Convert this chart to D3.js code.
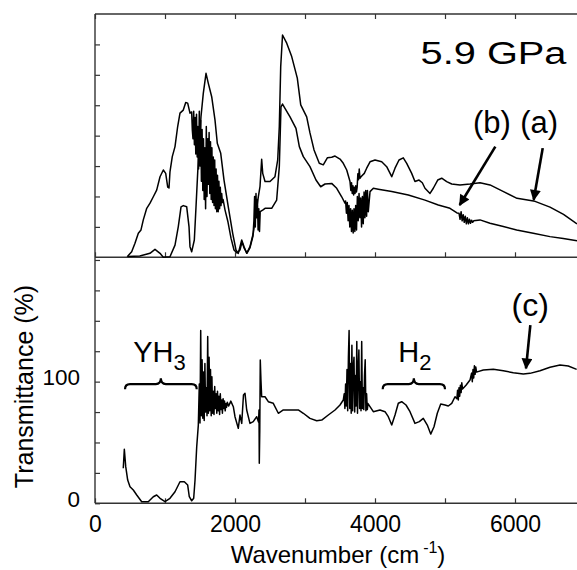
<!DOCTYPE html>
<html><head><meta charset="utf-8">
<script src="https://cdn.jsdelivr.net/npm/d3@7"></script>
<style>
body{margin:0;background:#fff}
svg{display:block}
text{font-family:"Liberation Sans",Arial,Helvetica,sans-serif;fill:#000}
</style>
</head><body>
<svg id="chart" width="577" height="570"></svg>
<script>
// ---- data (wavenumber cm-1, value) ----
const spectrumA = [[470,0.03],[640,0.04],[785,0.13],[857,0.26],[929,0.13],[976,0.0],[1071,0.02],[1143,0.40],[1190,1.01],[1229,1.66],[1261,1.70],[1310,1.66],[1343,1.01],[1357,0.35],[1381,0.18],[1419,0.57],[1443,1.66],[1476,3.20],[1514,4.62],[1547,5.39],[1586,6.05],[1619,5.72],[1667,5.28],[1714,4.52],[1747,3.75],[1796,3.42],[1843,2.54],[1904,1.66],[1967,0.79],[2014,0.24],[2047,0.13],[2096,0.57],[2129,0.35],[2167,0.13],[2214,0.35],[2261,0.79],[2300,1.45],[2333,1.99],[2357,2.32],[2381,3.22],[2396,2.76],[2429,2.49],[2500,2.49],[2571,2.65],[2610,3.20],[2633,4.30],[2653,6.27],[2679,7.31],[2739,7.04],[2810,6.60],[2890,5.89],[2939,5.01],[3024,4.62],[3071,4.09],[3129,3.53],[3204,3.09],[3261,3.04],[3319,3.27],[3381,3.29],[3429,3.33],[3500,3.23],[3547,3.09],[3596,2.87],[3643,2.49],[3655,2.2],[3665,2.45],[3675,2.1],[3685,2.35],[3695,2.05],[3705,2.3],[3715,2.1],[3725,2.35],[3735,2.15],[3745,2.3],[3755,2.75],[3765,2.55],[3775,2.9],[3785,2.6],[3800,2.65],[3847,2.76],[3881,2.93],[3929,3.14],[4000,3.20],[4096,3.14],[4167,2.98],[4239,2.65],[4286,2.93],[4343,3.20],[4404,3.27],[4453,3.09],[4524,2.76],[4571,2.49],[4629,2.54],[4676,2.45],[4714,2.27],[4786,2.10],[4833,2.27],[4896,2.54],[4953,2.60],[5024,2.49],[5096,2.41],[5214,2.38],[5357,2.41],[5500,2.45],[5643,2.38],[5836,2.16],[6029,1.94],[6286,1.84],[6500,1.65],[6693,1.41],[6886,1.10]];

const spectrumB = [[460,0.02],[524,0.18],[571,0.46],[619,0.79],[657,0.90],[690,1.23],[739,1.61],[786,1.78],[833,1.99],[881,2.21],[929,2.65],[976,2.87],[1010,2.76],[1039,2.31],[1057,2.28],[1071,2.81],[1104,3.31],[1143,3.64],[1181,4.30],[1214,4.74],[1261,4.84],[1296,5.09],[1324,5.07],[1357,4.74],[1381,4.78],
[1390,4.2],[1400,3.9],[1410,4.8],[1420,3.7],[1430,4.6],[1440,3.4],[1450,4.7],[1460,3.3],[1470,4.3],[1480,2.9],[1490,4.8],[1500,3.0],[1510,4.5],[1520,2.5],[1530,4.2],[1540,2.2],[1550,3.9],[1560,1.9],[1570,3.6],[1580,1.6],[1590,4.3],[1600,2.0],[1610,3.9],[1620,2.4],[1630,4.1],[1640,2.1],[1650,3.8],[1660,1.9],[1670,3.6],[1680,1.8],[1690,3.3],[1700,1.7],[1710,3.2],[1720,1.6],[1730,2.9],[1740,1.5],[1750,2.7],[1760,1.5],[1770,2.5],[1780,1.6],[1790,2.3],[1800,1.7],[1810,2.1],[1820,1.8],[1830,1.9],
[1857,1.56],[1900,1.16],[1943,0.63],[1986,0.24],[2029,0.14],[2071,0.24],[2100,0.50],[2129,0.31],[2171,0.14],[2214,0.31],[2257,0.70],
[2270,1.2],[2280,2.0],[2290,1.0],[2300,2.1],[2310,1.3],[2320,1.9],[2330,0.9],[2340,1.6],[2350,0.85],[2360,1.5],
[2400,1.56],[2429,1.61],[2524,1.61],[2595,1.88],[2633,2.98],[2657,4.95],[2679,5.04],[2714,4.90],[2786,4.62],[2871,4.24],[2919,3.64],[2976,3.31],[3071,2.98],[3157,2.54],[3224,2.32],[3286,2.41],[3381,2.43],[3453,2.27],[3524,1.99],[3571,1.78],
[3580,1.85],[3592,1.45],[3604,1.8],[3616,1.2],[3628,1.7],[3640,1.0],[3652,1.6],[3664,0.85],[3676,1.55],[3688,0.8],[3700,1.6],[3712,0.85],[3724,1.7],[3736,0.9],[3748,2.0],[3760,1.2],[3772,2.1],[3784,1.3],[3796,1.95],[3808,1.0],[3820,2.0],[3832,1.1],[3844,2.15],[3856,1.3],[3868,2.2],[3880,1.35],[3892,2.2],[3904,1.5],
[3929,2.16],[3976,2.27],[4047,2.24],[4239,2.16],[4476,2.05],[4714,1.88],[4904,1.72],[5071,1.61],[5171,1.46],
[5200,1.45],[5215,1.25],[5230,1.5],[5245,1.2],[5260,1.4],[5275,1.15],[5290,1.35],[5305,1.1],[5320,1.3],[5335,1.1],[5350,1.25],[5365,1.12],[5380,1.22],[5395,1.15],[5410,1.2],
[5500,1.23],[5643,1.12],[5833,1.01],[6024,0.90],[6261,0.79],[6500,0.68],[6690,0.62],[6886,0.54]];

const spectrumC = [[404,28.8],[419,44.4],[439,30.1],[467,19.1],[500,13.6],[547,10.9],[596,6.8],[667,1.3],[761,1.3],[833,5.4],[881,6.8],[929,4.1],[1000,1.3],[1071,4.1],[1143,9.5],[1214,17.7],[1276,17.7],[1324,15.0],[1347,5.4],[1381,2.1],[1410,4.1],[1429,19.1],[1453,46.5],[1476,64.3],
[1490,98],[1500,66],[1510,142],[1520,72],[1530,118],[1540,70],[1550,108],[1560,68],[1570,115],[1580,75],[1590,95],[1600,72],[1610,137],[1620,74],[1630,120],[1640,76],[1650,110],[1660,72],[1670,104],[1680,74],[1690,92],[1700,73],[1710,96],[1720,78],[1730,90],[1740,74],[1750,92],[1760,76],[1770,88],[1780,73],[1790,90],[1800,77],[1810,85],[1820,74],[1830,86],[1840,78],[1850,84],[1860,76],[1870,82],[1880,79],[1890,83],[1910,80],[1940,84],
[1976,79.4],[2000,71.2],[2047,61.6],[2071,72.6],[2096,65.7],[2121,89],[2143,90.4],[2167,76.7],[2214,65.7],[2261,67.1],[2310,71.2],[2336,66.8],[2343,76.7],[2347,32.9],[2354,60],[2361,117.7],[2371,101],[2381,87.6],[2429,87.6],[2476,83.5],[2547,82.2],[2619,74.0],[2690,76.7],[2786,76.7],[2904,76.7],[2976,74.0],[3071,69.8],[3167,67.9],[3239,68.4],[3333,72.6],[3429,76.7],[3500,80.8],[3547,84.9],
[3560,90],[3570,78],[3580,98],[3590,80],[3600,110],[3610,76],[3620,120],[3630,142],[3640,78],[3650,115],[3660,74],[3670,130],[3680,76],[3690,112],[3700,120],[3710,75],[3720,105],[3730,80],[3740,133],[3750,74],[3760,110],[3770,126],[3780,78],[3790,100],[3800,76],[3810,133],[3820,78],[3830,95],[3840,77],[3850,105],[3860,118],[3870,76],[3880,90],[3890,77],[3900,82],
[3976,75.3],[4071,76.7],[4143,75.3],[4190,71.2],[4239,64.3],[4286,72.6],[4333,82.2],[4381,83.5],[4443,80.8],[4500,75.3],[4571,65.7],[4633,67.1],[4690,69.8],[4747,64.3],[4796,56.9],[4843,62.9],[4890,74.0],[4939,81.6],[5000,80.8],[5047,80.0],[5096,82.2],[5143,87.6],
[5170,86],[5180,93],[5190,85],[5200,95],[5210,88],[5220,97],[5230,91],[5240,99],[5250,94],[5300,97],[5357,101.3],
[5380,107],[5390,100],[5400,110],[5410,103],[5420,113],[5430,106],[5440,112],[5450,108],
[5460,108],[5547,109.5],[5690,110.1],[5833,109.0],[5976,107.3],[6119,106.2],[6214,106.8],[6357,109.0],[6500,111.8],[6643,113.6],[6761,112.8],[6881,110.1]];

const xTickValues = [0,1000,2000,3000,4000,5000,6000,7000];
const xTickLabels = [0,2000,4000,6000];
const topTickValues = [1,2,3,4,5,6,7];
const bottomTickValues = [0,25,50,75,100,125,150,175,200];
const bottomTickLabels = [0,100];

// annotation anchors in data units
const bandBraces = [{label:"YH", sub:"3", from:429, to:1453, textW:547}, {label:"H", sub:"2", from:4110, to:5000, textW:4333}];
const topLabels = [{t:"(b)", w:5400, v:4.09}, {t:"(a)", w:6075, v:4.09}];
const topArrows = [{w1:5719, v1:3.64, w2:5210, v2:1.72}, {w1:6396, v1:3.59, w2:6267, v2:1.89}];
const bottomArrow = {w1:6219, t1:146.5, w2:6157, t2:110.9};

// ---- scales ----
const svg = d3.select("#chart");
const x = d3.scaleLinear().domain([0,7000]).range([95,585]);
const yTop = d3.scaleLinear().domain([0,8]).range([257.3,14]);
const yBot = d3.scaleLinear().domain([0,202.2]).range([503.3,257.3]);
const axisColor = "#333";

// frame
const frame = svg.append("g").attr("stroke",axisColor).attr("stroke-width",1.4).attr("fill","none");
frame.append("line").attr("x1",x(0)).attr("x2",x(7000)).attr("y1",yTop(8)).attr("y2",yTop(8));
frame.append("line").attr("x1",x(0)).attr("x2",x(7000)).attr("y1",yTop(0)).attr("y2",yTop(0));
frame.append("line").attr("x1",x(0)).attr("x2",x(7000)).attr("y1",yBot(0)).attr("y2",yBot(0));
frame.append("line").attr("x1",x(0)).attr("x2",x(0)).attr("y1",yTop(8)).attr("y2",yBot(0));

function styleAxis(g){
  g.select(".domain").remove();
  g.selectAll(".tick line").attr("stroke",axisColor).attr("stroke-width",1.2);
}
// top panel axes (ticks only)
svg.append("g").attr("transform",`translate(0,${yTop(8)})`)
  .call(d3.axisTop(x).tickValues(xTickValues).tickSizeInner(-5).tickSizeOuter(0).tickFormat(""))
  .call(styleAxis);
svg.append("g").attr("transform",`translate(0,${yTop(0)})`)
  .call(d3.axisTop(x).tickValues(xTickValues).tickSizeInner(5).tickSizeOuter(0).tickFormat(""))
  .call(styleAxis);
svg.append("g").attr("transform",`translate(${x(0)},0)`)
  .call(d3.axisLeft(yTop).tickValues(topTickValues).tickSizeInner(-5).tickSizeOuter(0).tickFormat(""))
  .call(styleAxis);
// bottom panel axes
const xb = svg.append("g").attr("transform",`translate(0,${yBot(0)})`)
  .call(d3.axisBottom(x).tickValues(xTickValues).tickSizeInner(-5).tickSizeOuter(0)
    .tickFormat(d => xTickLabels.includes(d) ? d : ""))
  .call(styleAxis);
xb.selectAll(".tick text").attr("y",28.6).attr("dy",0).attr("font-size",23).attr("fill","#000")
  .style("font-family",'"Liberation Sans",Arial,sans-serif');
const yb = svg.append("g").attr("transform",`translate(${x(0)},0)`)
  .call(d3.axisLeft(yBot).tickValues(bottomTickValues).tickSizeInner(-5).tickSizeOuter(0).tickPadding(15)
    .tickFormat(d => bottomTickLabels.includes(d) ? d : ""))
  .call(styleAxis);
yb.selectAll(".tick text").attr("dy",3).attr("font-size",22.5).attr("fill","#000")
  .style("font-family",'"Liberation Sans",Arial,sans-serif');

// axis titles
svg.append("text").attr("transform","translate(33,386.5) rotate(-90)").attr("text-anchor","middle")
  .attr("font-size",25).text("Transmittance (%)");
const xt = svg.append("text").attr("x",x(3500)-2).attr("y",563).attr("text-anchor","middle").attr("font-size",24);
xt.append("tspan").text("Wavenumber (cm");
xt.append("tspan").attr("font-size",16).attr("dy",-10).attr("dx",4).text("-1");
xt.append("tspan").attr("dy",10).text(")");

// spectra
const lineTop = d3.line().x(d=>x(d[0])).y(d=>yTop(d[1]));
const lineBot = d3.line().x(d=>x(d[0])).y(d=>yBot(d[1]));
[spectrumA, spectrumB].forEach(s => {
  svg.append("path").datum(s).attr("d",lineTop).attr("fill","none").attr("stroke","#000")
    .attr("stroke-width",1.5).attr("stroke-linejoin","round");
});
svg.append("path").datum(spectrumC).attr("d",lineBot).attr("fill","none").attr("stroke","#000")
  .attr("stroke-width",1.5).attr("stroke-linejoin","round");

// annotations
svg.append("defs").append("marker").attr("id","ah").attr("viewBox","0 0 10 10").attr("refX",9).attr("refY",5)
  .attr("markerWidth",4.6).attr("markerHeight",4.2).attr("markerUnits","strokeWidth").attr("orient","auto")
  .append("path").attr("d","M0,0 L10,5 L0,10 Z").attr("fill","#000");

svg.append("text").attr("x",x(6736)).attr("y",yTop(6.36)).attr("text-anchor","end").attr("font-size",31)
  .attr("textLength",146).attr("lengthAdjust","spacingAndGlyphs").text("5.9 GPa");
topLabels.forEach(l => svg.append("text").attr("x",x(l.w)).attr("y",yTop(l.v)).attr("font-size",31).text(l.t));
topArrows.forEach(a => svg.append("line").attr("x1",x(a.w1)).attr("y1",yTop(a.v1)).attr("x2",x(a.w2)).attr("y2",yTop(a.v2))
  .attr("stroke","#000").attr("stroke-width",2.6).attr("marker-end","url(#ah)"));
svg.append("text").attr("x",x(5950)).attr("y",yBot(153.9)).attr("font-size",32).text("(c)");
svg.append("line").attr("x1",x(bottomArrow.w1)).attr("y1",yBot(bottomArrow.t1)).attr("x2",x(bottomArrow.w2)).attr("y2",yBot(bottomArrow.t2))
  .attr("stroke","#000").attr("stroke-width",2.6).attr("marker-end","url(#ah)");

bandBraces.forEach(b => {
  const x1 = x(b.from), x2 = x(b.to), xm = (x1+x2)/2;
  const yl = yBot(98), ye = yBot(93.7), yt = yBot(102.7);
  const p = `M${x1},${ye} Q${x1},${yl} ${x1+5},${yl} L${xm-5},${yl} Q${xm},${yl} ${xm},${yt} Q${xm},${yl} ${xm+5},${yl} L${x2-5},${yl} Q${x2},${yl} ${x2},${ye}`;
  svg.append("path").attr("d",p).attr("fill","none").attr("stroke","#000").attr("stroke-width",2.2);
  const t = svg.append("text").attr("x",x(b.textW)).attr("y",yBot(116.4)).attr("font-size",29);
  t.append("tspan").text(b.label);
  t.append("tspan").attr("font-size",22).attr("dy",8).text(b.sub);
});
</script>
</body></html>
